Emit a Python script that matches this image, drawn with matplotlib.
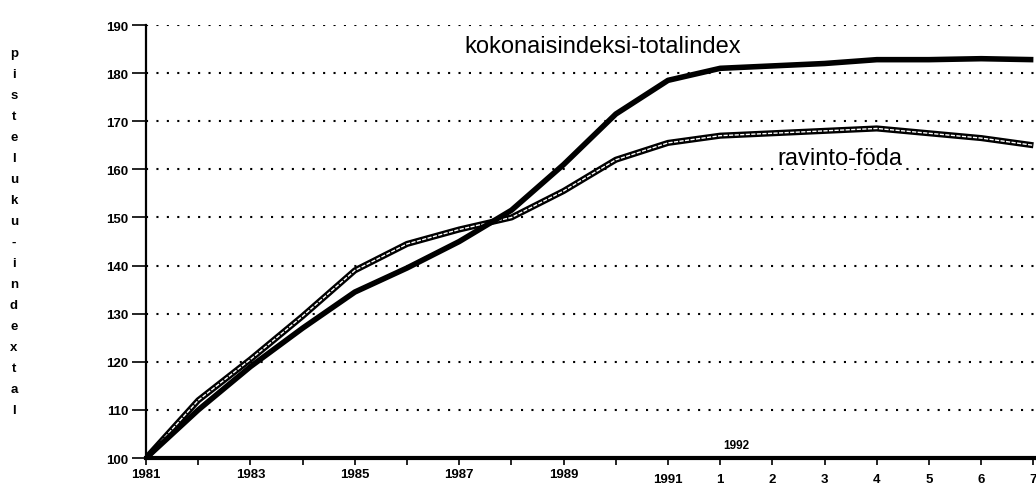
import matplotlib.pyplot as plt
import numpy as np

plt.rcParams['font.family'] = ['Liberation Sans', 'DejaVu Sans']
plt.rcParams['font.weight'] = 'bold'

# years 1981-1991, then months 1-7 of 1992
tick_labels = ['1981', '', '1983', '', '1985', '', '1987', '', '1989', '', '1991',
               '1', '2', '3', '4', '5', '6', '7']
total_index = [100, 110, 119, 127, 134.5, 139.5, 145, 151.5, 161, 171.5, 178.5,
               181, 181.5, 182, 182.8, 182.8, 183, 182.8]
food_index = [100, 112, 120.5, 129.5, 139, 144.5, 147.5, 150, 155.5, 162, 165.5,
              167, 167.5, 168, 168.5, 167.5, 166.5, 165]
ylabel_text = 'pisteluku-indextal'

x = np.arange(len(tick_labels))

fig = plt.figure(figsize=(10.36, 4.89), dpi=100)
ax = fig.add_axes([0.141, 0.0613, 0.859, 0.8855])

# food: black outline with thin white core
ax.plot(x, food_index, color='black', lw=4.4, solid_capstyle='butt', zorder=3)
ax.plot(x, food_index, color='white', lw=1.0, ls=(0, (3, 1)), zorder=4)
# total index: thick black
ax.plot(x, total_index, color='black', lw=4.0, solid_capstyle='butt', zorder=5)

ax.set_xlim(0, 17.05)
ax.set_ylim(100, 190)
ax.set_yticks(np.arange(100, 191, 10))
ax.set_xticks(x)
ax.set_xticklabels(tick_labels)
ax.tick_params(axis='y', length=10, width=1.2, direction='out', labelsize=9.5, pad=3)
ax.tick_params(axis='x', length=5, width=1.2, direction='out', labelsize=9.5, pad=2)
for t in ax.xaxis.get_major_ticks()[10:]:
    t.set_pad(6)

ax.yaxis.grid(True, color='black', linestyle=(0, (1, 4)), linewidth=1.5)
ax.set_axisbelow(True)
for s in ['top', 'right']:
    ax.spines[s].set_visible(False)
ax.spines['left'].set_linewidth(1.6)
ax.spines['bottom'].set_linewidth(3)
ax.spines['bottom'].set_zorder(6)

ax.text(11.3, 101.5, '1992', fontsize=8.5, ha='center', va='bottom')
ax.text(8.75, 185.6, 'kokonaisindeksi-totalindex', fontsize=17, ha='center',
        va='center', fontweight='normal')
ax.text(13.3, 162.3, 'ravinto-föda', fontsize=17, ha='center', va='center',
        fontweight='normal', bbox=dict(facecolor='white', edgecolor='none', pad=0))

fig.text(0.0135, 0.525, '\n'.join(ylabel_text), fontsize=9.5, ha='center',
         va='center', linespacing=2.0)

fig.savefig('out.png', dpi=100)
